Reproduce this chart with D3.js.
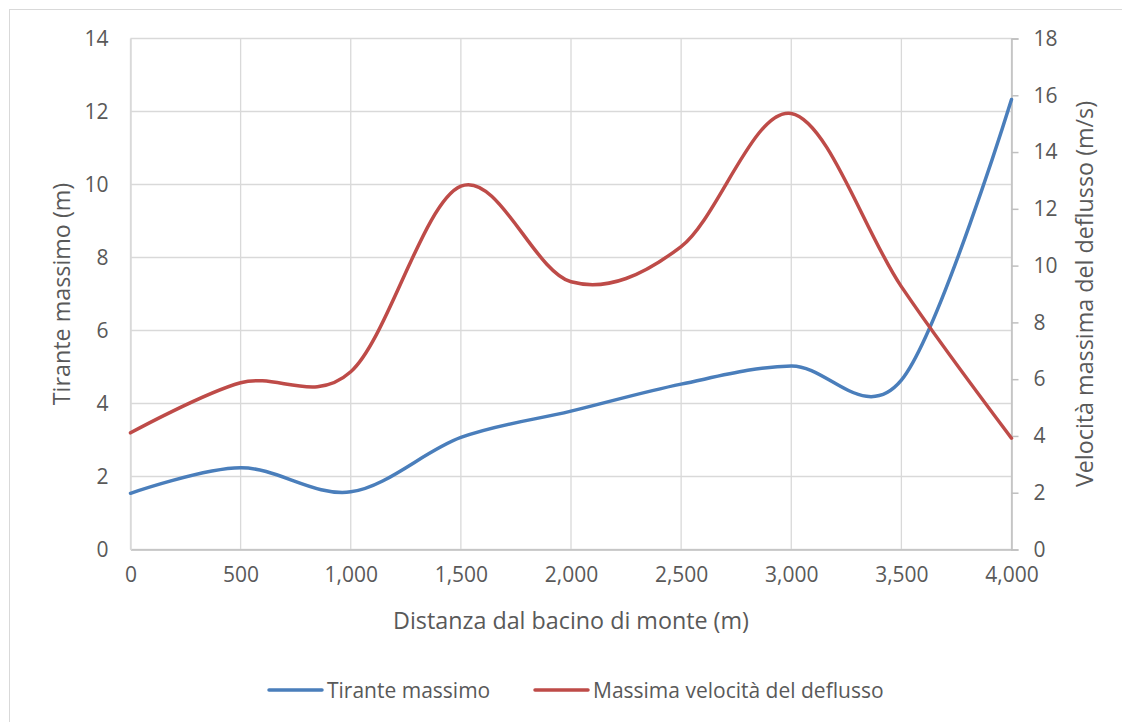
<!DOCTYPE html>
<html>
<head>
<meta charset="utf-8">
<script src="https://cdn.jsdelivr.net/npm/d3@7"></script>
<style>
  html, body { margin: 0; padding: 0; background: #fff; }
  svg { display: block; font-family: "Open Sans", Lato, sans-serif; }
</style>
</head>
<body>
<svg id="chart" width="1122" height="722"></svg>
<script>
// ---- data ----
const distances = [0, 500, 1000, 1500, 2000, 2500, 3000, 3500, 4000];
const tiranteMassimo = [1.54, 2.24, 1.58, 3.07, 3.79, 4.53, 5.03, 4.64, 12.33];
const velocitaMassima = [4.11, 5.875, 6.26, 12.80, 9.43, 10.67, 15.36, 9.26, 3.92];
const xTicks = [0, 500, 1000, 1500, 2000, 2500, 3000, 3500, 4000];
const leftTicks = [0, 2, 4, 6, 8, 10, 12, 14];
const rightTicks = [0, 2, 4, 6, 8, 10, 12, 14, 16, 18];
const seriesNames = ["Tirante massimo", "Massima velocità del deflusso"];
const xTitle = "Distanza dal bacino di monte (m)";
const leftTitle = "Tirante massimo (m)";
const rightTitle = "Velocità massima del deflusso (m/s)";

// ---- layout ----
const svg = d3.select("#chart");
const plot = { left: 130.5, right: 1011.5, top: 38.5, bottom: 549.5 };
const textColor = "#595959";
const gridColor = "#d9d9d9";
const axisColor = "#bfbfbf";
const blue = "#4a7ebb";
const red = "#be4b48";
const font = "'Open Sans', Lato, sans-serif";

// chart border
svg.append("rect")
  .attr("x", 9.5).attr("y", 9.5)
  .attr("width", 1200).attr("height", 800)
  .attr("fill", "none").attr("stroke", gridColor).attr("stroke-width", 1);

const x = d3.scaleLinear().domain([0, 4000]).range([plot.left, plot.right]);
const yL = d3.scaleLinear().domain([0, 14]).range([plot.bottom, plot.top]);
const yR = d3.scaleLinear().domain([0, 18]).range([plot.bottom, plot.top]);

// gridlines
const g = svg.append("g");
g.selectAll("line.hg").data(leftTicks).enter().append("line")
  .attr("x1", plot.left).attr("x2", plot.right)
  .attr("y1", d => yL(d)).attr("y2", d => yL(d))
  .attr("stroke", gridColor).attr("stroke-width", 1.3);
g.selectAll("line.vg").data(xTicks).enter().append("line")
  .attr("x1", d => x(d)).attr("x2", d => x(d))
  .attr("y1", plot.top).attr("y2", plot.bottom)
  .attr("stroke", gridColor).attr("stroke-width", 1.3);

// axes
const fmt = d3.format(",");
const bottomAxis = d3.axisBottom(x).tickValues(xTicks).tickFormat(fmt).tickSize(0).tickPadding(18);
const leftAxis = d3.axisLeft(yL).tickValues(leftTicks).tickFormat(d3.format("d")).tickSize(0).tickPadding(22);
const rightAxis = d3.axisRight(yR).tickValues(rightTicks).tickFormat(d3.format("d")).tickSize(7).tickPadding(15);

function styleAxis(sel, domainColor) {
  sel.select(".domain").attr("stroke", domainColor).attr("stroke-width", 1.5);
  sel.selectAll(".tick line").attr("stroke", axisColor).attr("stroke-width", 1.5);
  sel.selectAll(".tick text").attr("fill", textColor).style("font-size", "21px").style("font-family", font);
}

svg.append("g").attr("transform", `translate(0,${plot.bottom})`).call(bottomAxis).call(s => styleAxis(s, axisColor));
svg.append("g").attr("transform", `translate(${plot.left},0)`).call(leftAxis).call(s => styleAxis(s, gridColor));
svg.append("g").attr("transform", `translate(${plot.right},0)`).call(rightAxis).call(s => styleAxis(s, axisColor));

// lines
const curve = d3.curveCatmullRom.alpha(0);
const lineL = d3.line().x((d, i) => x(distances[i])).y(d => yL(d)).curve(curve);
const lineR = d3.line().x((d, i) => x(distances[i])).y(d => yR(d)).curve(curve);

svg.append("path").datum(tiranteMassimo).attr("d", lineL)
  .attr("fill", "none").attr("stroke", blue).attr("stroke-width", 3.5).attr("stroke-linecap", "round");
svg.append("path").datum(velocitaMassima).attr("d", lineR)
  .attr("fill", "none").attr("stroke", red).attr("stroke-width", 3.5).attr("stroke-linecap", "round");

// axis titles
svg.append("text").text(xTitle)
  .attr("x", (plot.left + plot.right) / 2).attr("y", 620)
  .attr("text-anchor", "middle").attr("dominant-baseline", "central")
  .attr("fill", textColor).style("font-size", "23.3px");
svg.append("text").text(leftTitle)
  .attr("transform", `translate(61,${(plot.top + plot.bottom) / 2}) rotate(-90)`)
  .attr("text-anchor", "middle").attr("dominant-baseline", "central")
  .attr("fill", textColor).style("font-size", "23.3px");
svg.append("text").text(rightTitle)
  .attr("transform", `translate(1084,${(plot.top + plot.bottom) / 2}) rotate(-90)`)
  .attr("text-anchor", "middle").attr("dominant-baseline", "central")
  .attr("fill", textColor).style("font-size", "23.3px");

// legend
const legendItems = [
  { name: seriesNames[0], color: blue, x0: 269 },
  { name: seriesNames[1], color: red, x0: 535 }
];
const lg = svg.append("g");
legendItems.forEach(it => {
  lg.append("line").attr("x1", it.x0).attr("x2", it.x0 + 53)
    .attr("y1", 690).attr("y2", 690)
    .attr("stroke", it.color).attr("stroke-width", 3.5).attr("stroke-linecap", "round");
  lg.append("text").text(it.name)
    .attr("x", it.x0 + 58).attr("y", 690)
    .attr("dominant-baseline", "central")
    .attr("fill", textColor).style("font-size", "21px");
});
</script>
</body>
</html>
